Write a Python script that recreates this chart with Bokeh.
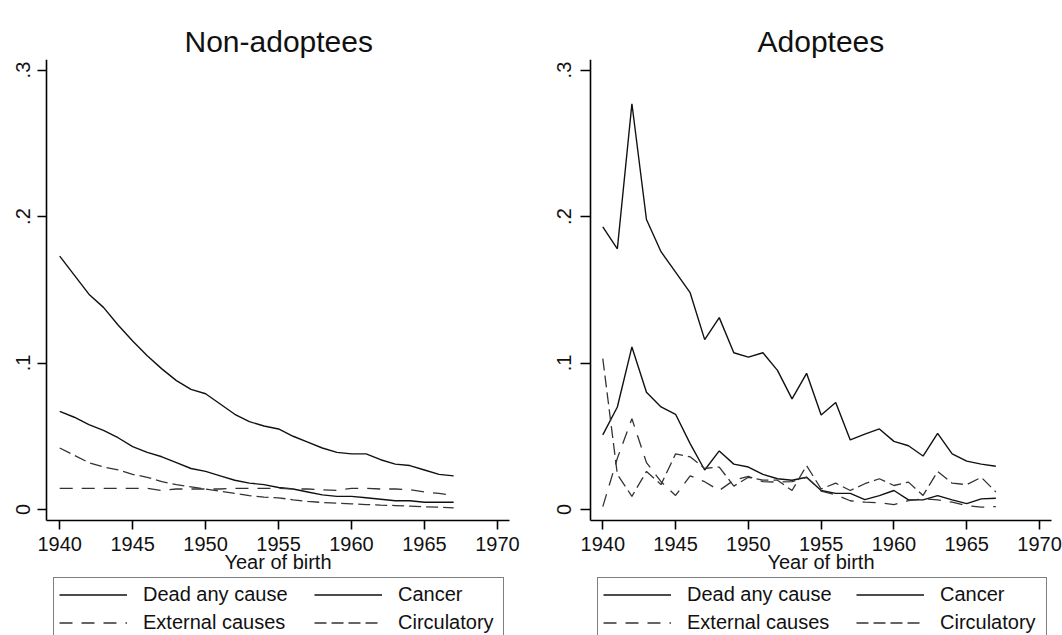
from bokeh.plotting import figure
from bokeh.models import Legend, LegendItem, FixedTicker, Range1d
from bokeh.layouts import row
from bokeh.embed import file_html
from bokeh.resources import INLINE

years = list(range(1940, 1968))

# Non-adoptees
non_dead = [0.173, 0.160, 0.147, 0.138, 0.126, 0.115, 0.105, 0.096, 0.088, 0.082,
            0.079, 0.072, 0.065, 0.060, 0.057, 0.055, 0.050, 0.046, 0.042, 0.039,
            0.038, 0.038, 0.034, 0.031, 0.030, 0.027, 0.024, 0.023]
non_cancer = [0.067, 0.063, 0.058, 0.054, 0.049, 0.043, 0.039, 0.036, 0.032, 0.028,
              0.026, 0.023, 0.020, 0.018, 0.017, 0.015, 0.014, 0.012, 0.010, 0.009,
              0.009, 0.008, 0.007, 0.006, 0.006, 0.005, 0.005, 0.005]
non_external = [0.0145, 0.0145, 0.0145, 0.0145, 0.0145, 0.0145, 0.0145, 0.013, 0.014, 0.014,
                0.014, 0.014, 0.0145, 0.0145, 0.0145, 0.0145, 0.014, 0.014, 0.0135, 0.013,
                0.0145, 0.0145, 0.014, 0.014, 0.0135, 0.012, 0.011, 0.0095]
non_circ = [0.042, 0.037, 0.032, 0.029, 0.027, 0.024, 0.022, 0.019, 0.017, 0.0155,
            0.014, 0.0125, 0.011, 0.0095, 0.0084, 0.008, 0.0066, 0.0055, 0.0048, 0.0043,
            0.0039, 0.0034, 0.003, 0.0027, 0.0023, 0.0018, 0.0016, 0.0011]

# Adoptees
adp_dead = [0.193, 0.178, 0.277, 0.198, 0.176, 0.162, 0.148, 0.116, 0.131, 0.107,
            0.104, 0.107, 0.095, 0.0755, 0.093, 0.0645, 0.073, 0.0475, 0.0515, 0.055,
            0.0465, 0.0435, 0.0365, 0.052, 0.038, 0.033, 0.031, 0.0295]
adp_cancer = [0.051, 0.070, 0.111, 0.080, 0.070, 0.065, 0.045, 0.027, 0.040, 0.031,
              0.029, 0.024, 0.021, 0.020, 0.022, 0.013, 0.011, 0.011, 0.0068, 0.0095,
              0.013, 0.0066, 0.0066, 0.0095, 0.0066, 0.004, 0.0073, 0.0077]
adp_external = [0.002, 0.035, 0.062, 0.032, 0.019, 0.0096, 0.023, 0.019, 0.013, 0.020,
                0.0226, 0.019, 0.0187, 0.019, 0.022, 0.0126, 0.010, 0.006, 0.005, 0.0046,
                0.0034, 0.006, 0.0073, 0.0066, 0.005, 0.0027, 0.0016, 0.002]
adp_circ = [0.103, 0.024, 0.009, 0.026, 0.017, 0.038, 0.036, 0.028, 0.029, 0.016,
            0.022, 0.020, 0.020, 0.013, 0.030, 0.014, 0.018, 0.013, 0.0176, 0.021,
            0.0164, 0.0187, 0.0096, 0.026, 0.018, 0.017, 0.022, 0.012]

x_ticks = [1940, 1945, 1950, 1955, 1960, 1965, 1970]
y_ticks = [0, 0.1, 0.2, 0.3]
y_tick_labels = ["0", ".1", ".2", ".3"]

series_names = ["Dead any cause", "Cancer", "External causes", "Circulatory"]

FONT = "Liberation Sans"
Y_AXIS_LO = -0.0075
Y_AXIS_HI = 0.3072


def make_panel(title, title_left, width, x_view, x_bounds, dead, cancer, external, circ,
               ylab_standoff, tick_out, leg_x1, leg_x2, lw1):
    p = figure(width=width, height=635, output_backend="svg", toolbar_location=None,
               x_range=Range1d(*x_view), y_range=Range1d(-0.0860, Y_AXIS_HI),
               min_border_left=0, min_border_right=0, min_border_top=59, min_border_bottom=0)
    p.outline_line_color = None
    p.background_fill_color = "white"
    p.border_fill_color = "white"
    p.xgrid.visible = False
    p.ygrid.visible = False

    p.title.text = title
    p.title.align = "left"
    p.title.offset = title_left
    p.title.text_font = FONT
    p.title.text_font_size = "30px"
    p.title.text_font_style = "normal"
    p.title.text_color = "#111111"
    p.title.standoff = 4

    xa = p.xaxis[0]
    xa.fixed_location = Y_AXIS_LO
    xa.bounds = x_bounds
    xa.ticker = FixedTicker(ticks=x_ticks)
    xa.axis_label = "Year of birth"
    xa.axis_label_text_font = FONT
    xa.axis_label_text_font_size = "20px"
    xa.axis_label_text_font_style = "normal"
    xa.axis_label_text_color = "#111111"
    xa.axis_label_standoff = -3
    xa.major_label_text_font = FONT
    xa.major_label_text_font_size = "20px"
    xa.major_label_text_color = "#111111"
    xa.major_label_standoff = 7
    xa.major_tick_out = 9
    xa.major_tick_in = 0
    xa.minor_tick_out = 0
    xa.minor_tick_in = 0
    xa.axis_line_width = 1.6
    xa.major_tick_line_width = 1.6
    xa.axis_line_color = "black"
    xa.major_tick_line_color = "black"

    ya = p.yaxis[0]
    ya.fixed_location = x_bounds[0]
    ya.bounds = (Y_AXIS_LO, Y_AXIS_HI)
    ya.ticker = FixedTicker(ticks=y_ticks)
    ya.major_label_overrides = {t: s for t, s in zip(y_ticks, y_tick_labels)}
    ya.major_label_orientation = "vertical"
    ya.major_label_text_font = FONT
    ya.major_label_text_font_size = "20px"
    ya.major_label_text_color = "#111111"
    ya.major_label_standoff = ylab_standoff
    ya.major_tick_out = tick_out
    ya.major_tick_in = 0
    ya.minor_tick_out = 0
    ya.minor_tick_in = 0
    ya.axis_line_width = 1.6
    ya.major_tick_line_width = 1.6
    ya.axis_line_color = "black"
    ya.major_tick_line_color = "black"

    r1 = p.line(years, dead, line_color="#111111", line_width=1.4)
    r2 = p.line(years, cancer, line_color="#111111", line_width=1.4)
    r3 = p.line(years, external, line_color="#333333", line_width=1.3, line_dash="13 9")
    r4 = p.line(years, circ, line_color="#333333", line_width=1.3, line_dash="12 5")

    common = dict(glyph_width=68, glyph_height=23, label_height=23, label_standoff=16,
                  spacing=5, padding=5, orientation="vertical",
                  label_text_font=FONT, label_text_font_size="20px", label_text_color="#111111",
                  margin=0)
    leg1 = Legend(items=[LegendItem(label=series_names[0], renderers=[r1]),
                         LegendItem(label=series_names[2], renderers=[r3])],
                  location=(leg_x1, -5), label_width=lw1,
                  border_line_color="black", border_line_width=1.5,
                  background_fill_color="white", background_fill_alpha=1.0, **common)
    leg2 = Legend(items=[LegendItem(label=series_names[1], renderers=[r2]),
                         LegendItem(label=series_names[3], renderers=[r4])],
                  location=(leg_x2, 1), label_width=20,
                  border_line_color=None, background_fill_alpha=0.0, **common)
    p.add_layout(leg1, "center")
    p.add_layout(leg2, "center")
    return p


p1 = make_panel("Non-adoptees", 184, 539, (1935.942, 1972.885), (1939.07, 1970.81),
                non_dead, non_cancer, non_external, non_circ,
                7, 9, 53, 314, 355)
p2 = make_panel("Adoptees", 218, 523, (1935.652, 1971.579), (1939.134, 1970.817),
                adp_dead, adp_cancer, adp_external, adp_circ,
                9, 10, 58, 317, 354)

layout = row(p1, p2)
open("out.html", "w").write(file_html(layout, INLINE))
